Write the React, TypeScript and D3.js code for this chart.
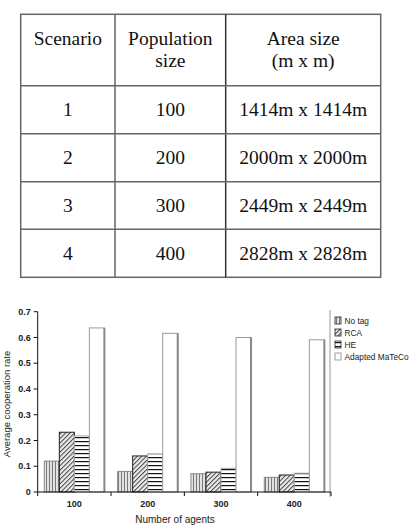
import React from "react";
import * as d3 from "d3";

// table contents
const tableHeaders = [["Scenario"], ["Population", "size"], ["Area size", "(m x m)"]];
const scenarioIds = ["1", "2", "3", "4"];
const populationSizes = ["100", "200", "300", "400"];
const areaSizes = ["1414m x 1414m", "2000m x 2000m", "2449m x 2449m", "2828m x 2828m"];

// chart data
const categories = ["100", "200", "300", "400"];
const seriesNames = ["No tag", "RCA", "HE", "Adapted MaTeCo"];
const noTag = [0.12, 0.08, 0.071, 0.057];
const rca = [0.232, 0.14, 0.077, 0.066];
const he = [0.218, 0.148, 0.092, 0.073];
const adapted = [0.637, 0.616, 0.6, 0.591];
const yTicks = [0, 0.1, 0.2, 0.3, 0.4, 0.5, 0.6, 0.7];

const seriesValues = [noTag, rca, he, adapted];
const fills = ["url(#pNoTag)", "url(#pRca)", "url(#pHe)", "#fff"];
const strokes = ["#888", "#222", "#aaa", "#999"];

function ScenarioTable() {
  const left = 20.7;
  const colEdges = [left, 115, 225.7, 380.7];
  const rowEdges = [14.3, 85.7, 133.7, 181.7, 229.3, 277.3];
  const colCenter = (i: number) => (colEdges[i] + colEdges[i + 1]) / 2;
  const rows = scenarioIds.map((s, i) => [s, populationSizes[i], areaSizes[i]]);
  const font = "'Liberation Serif', 'Times New Roman', serif";

  return (
    <g fontFamily={font} fontSize={19.5} fill="#111">
      <rect
        x={colEdges[0]}
        y={rowEdges[0]}
        width={colEdges[3] - colEdges[0]}
        height={rowEdges[5] - rowEdges[0]}
        fill="none"
        stroke="#666"
        strokeWidth={1.5}
      />
      {colEdges.slice(1, 3).map((cx, i) => (
        <line key={"c" + i} x1={cx} x2={cx} y1={rowEdges[0]} y2={rowEdges[5]} stroke={i === 1 ? "#333" : "#666"} strokeWidth={1.5} />
      ))}
      {rowEdges.slice(1, 5).map((ry, i) => (
        <line key={"r" + i} x1={colEdges[0]} x2={colEdges[3]} y1={ry} y2={ry} stroke="#666" strokeWidth={1.5} />
      ))}
      {tableHeaders.map((lines, i) =>
        lines.map((t, j) => (
          <text key={"h" + i + j} x={colCenter(i)} y={45 + j * 21.7} textAnchor="middle">
            {t}
          </text>
        ))
      )}
      {rows.map((r, ri) =>
        r.map((t, ci) => (
          <text
            key={"d" + ri + ci}
            x={colCenter(ci)}
            y={(rowEdges[ri + 1] + rowEdges[ri + 2]) / 2 + 6.5}
            textAnchor="middle"
          >
            {t}
          </text>
        ))
      )}
    </g>
  );
}

function BarChart() {
  const axisLeft = 37.7;
  const axisRight = 331;
  const y = d3.scaleLinear().domain([0, 0.7]).range([492, 311.7]);
  const x0 = d3.scaleBand().domain(categories).range([axisLeft, axisRight]);
  const x1 = d3
    .scaleBand()
    .domain(seriesNames)
    .range([0, x0.bandwidth()])
    .paddingOuter(0.44);
  const bottom = y(0);
  const font = "'Liberation Sans', Arial, sans-serif";
  const boundaries = categories.map((c) => x0(c) as number).concat([axisRight]);

  return (
    <g fontFamily={font}>
      <defs>
        <pattern id="pNoTag" patternUnits="userSpaceOnUse" width={3} height={4}>
          <rect width={3} height={4} fill="#e2e2e2" />
          <rect x={1} width={1} height={4} fill="#7a7a7a" />
        </pattern>
        <pattern id="pRca" patternUnits="userSpaceOnUse" width={3.2} height={4} patternTransform="rotate(45)">
          <rect width={3.2} height={4} fill="#ececec" />
          <rect x={0} width={1} height={4} fill="#444" />
        </pattern>
        <pattern id="pHe" patternUnits="userSpaceOnUse" width={4} height={4}>
          <rect width={4} height={4} fill="#fff" />
          <rect y={1} width={4} height={1.2} fill="#111" />
        </pattern>
      </defs>

      {/* plot border on the right */}
      <line x1={330} x2={330} y1={310} y2={497} stroke="#999" strokeWidth={1} />

      {seriesValues.map((vals, si) =>
        vals.map((v, ci) => {
          const bx = (x0(categories[ci]) as number) + (x1(seriesNames[si]) as number);
          const bw = x1.bandwidth();
          return (
            <g key={si + "-" + ci}>
              <rect
                x={bx}
                y={y(v)}
                width={bw}
                height={bottom - y(v)}
                fill={fills[si]}
                stroke={strokes[si]}
                strokeWidth={1}
              />
              {si === 3 && (
                <line x1={bx + bw} x2={bx + bw} y1={y(v)} y2={bottom} stroke="#888" strokeWidth={2} />
              )}
            </g>
          );
        })
      )}

      {/* y axis */}
      <line x1={axisLeft} x2={axisLeft} y1={y(0.7)} y2={bottom} stroke="#111" />
      {yTicks.map((t) => (
        <g key={t}>
          <line x1={axisLeft - 4} x2={axisLeft} y1={y(t)} y2={y(t)} stroke="#111" />
          <text x={axisLeft - 7} y={y(t)} dy="0.35em" textAnchor="end" fontSize={9} fontWeight="bold" fill="#222">
            {t}
          </text>
        </g>
      ))}
      <text
        transform={`translate(10,404) rotate(-90)`}
        textAnchor="middle"
        fontSize={9.5}
        fill="#222"
      >
        Average cooperation rate
      </text>

      {/* x axis */}
      <line x1={axisLeft} x2={axisRight} y1={bottom} y2={bottom} stroke="#111" />
      {boundaries.map((bx, i) => (
        <line key={i} x1={bx} x2={bx} y1={bottom} y2={bottom + 4} stroke="#111" />
      ))}
      {categories.map((c) => (
        <text
          key={c}
          x={(x0(c) as number) + x0.bandwidth() / 2}
          y={507}
          textAnchor="middle"
          fontSize={9}
          fontWeight="bold"
          fill="#222"
        >
          {c}
        </text>
      ))}
      <text x={175} y={523} textAnchor="middle" fontSize={10} fill="#222">
        Number of agents
      </text>

      {/* legend */}
      {seriesNames.map((s, i) => (
        <g key={s} transform={`translate(335,${317 + i * 12})`}>
          <rect width={6} height={7} fill={fills[i]} stroke={i === 3 ? "#888" : "#222"} strokeWidth={0.8} />
          <text x={9.5} y={6.5} fontSize={8.3} fill="#222">
            {s}
          </text>
        </g>
      ))}
    </g>
  );
}

export default function App() {
  return (
    <div style={{ position: "absolute", left: 0, top: 0 }}>
      <svg width={412} height={528} style={{ display: "block", background: "#fff" }}>
        <ScenarioTable />
        <BarChart />
      </svg>
    </div>
  );
}
